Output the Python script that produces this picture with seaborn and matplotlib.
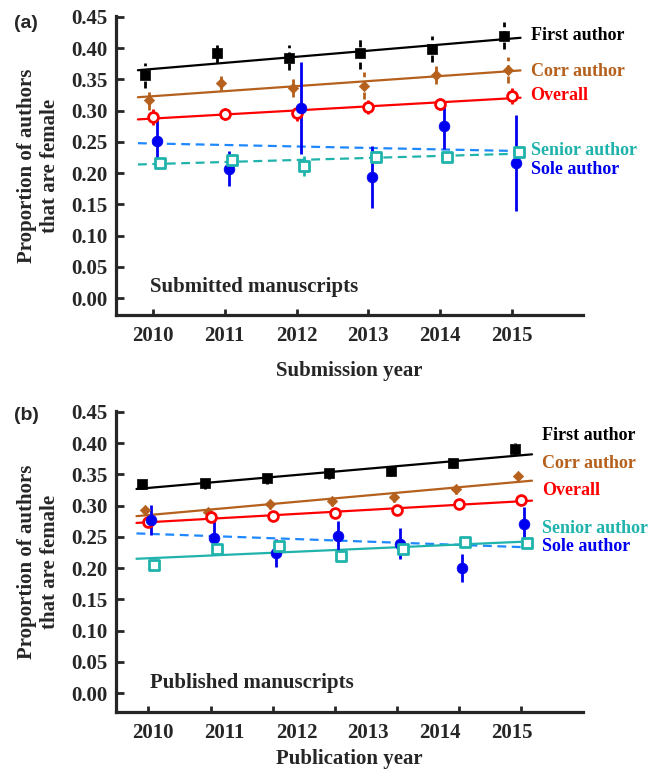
import numpy as np
import matplotlib
matplotlib.use("Agg")
import matplotlib.pyplot as plt
import seaborn as sns

# ---- data ----
years = [2010, 2011, 2012, 2013, 2014, 2015]
year_labels = ["2010", "2011", "2012", "2013", "2014", "2015"]
# published panel: 7 points, drawn at the (shifted) tick positions
pub_x = [2009.93, 2010.81, 2011.67, 2012.54, 2013.40, 2014.26, 2015.13]

series_names = ["First author", "Corr author", "Overall", "Sole author", "Senior author"]

# (a) submitted manuscripts
sub_first = [0.357, 0.393, 0.385, 0.393, 0.399, 0.420]
sub_first_err = [0.020, 0.016, 0.020, 0.026, 0.021, 0.022]
sub_corr = [0.317, 0.344, 0.337, 0.340, 0.357, 0.365]
sub_corr_err = [0.016, 0.012, 0.015, 0.022, 0.015, 0.021]
sub_overall = [0.290, 0.295, 0.296, 0.306, 0.311, 0.324]
sub_overall_err = [0.013, 0.010, 0.012, 0.011, 0.010, 0.013]
sub_sole = [0.252, 0.207, 0.304, 0.194, 0.276, 0.216]
sub_sole_err = [0.035, 0.028, 0.074, 0.050, 0.037, 0.077]
sub_senior = [0.217, 0.221, 0.212, 0.226, 0.226, 0.234]
sub_senior_err = [0.008, 0.010, 0.016, 0.010, 0.008, 0.010]

# (b) published manuscripts
pub_first = [0.335, 0.336, 0.344, 0.352, 0.356, 0.368, 0.391]
pub_first_err = [0.009, 0.009, 0.009, 0.009, 0.009, 0.008, 0.010]
pub_corr = [0.293, 0.290, 0.303, 0.307, 0.314, 0.327, 0.348]
pub_corr_err = [0.008, 0.008, 0.008, 0.008, 0.008, 0.008, 0.008]
pub_overall = [0.274, 0.282, 0.283, 0.288, 0.293, 0.303, 0.309]
pub_overall_err = [0.005, 0.005, 0.005, 0.005, 0.005, 0.005, 0.005]
pub_sole = [0.277, 0.248, 0.224, 0.251, 0.239, 0.200, 0.271]
pub_sole_err = [0.024, 0.027, 0.022, 0.024, 0.025, 0.022, 0.027]
pub_senior = [0.205, 0.231, 0.235, 0.219, 0.231, 0.242, 0.240]
pub_senior_err = [0.004, 0.004, 0.004, 0.004, 0.004, 0.004, 0.004]

# ---- styles ----
colors = {"First author": "#000000", "Corr author": "#B5601C", "Overall": "#FF0000",
          "Sole author": "#0000F0", "Senior author": "#1FB3AC"}
fit_colors = dict(colors, **{"Sole author": "#1E88FF"})
markers = {"First author": ("s", 55, True), "Corr author": ("D", 28, True),
           "Overall": ("o", 50, False), "Sole author": ("o", 60, True),
           "Senior author": ("s", 52, False)}
err_dashed = {"First author": True, "Corr author": True, "Overall": False,
              "Sole author": False, "Senior author": False}
dash_pat = (0, (4, 2.5))

sns.set_theme(style="ticks")
plt.rcParams["font.family"] = ["Liberation Serif", "DejaVu Serif"]
plt.rcParams["font.weight"] = "bold"
plt.rcParams["axes.labelweight"] = "bold"

fig = plt.figure(figsize=(6.61, 7.70), dpi=100)
ax_a = fig.add_axes([116 / 661, 1 - 315 / 770, 467 / 661, 299 / 770])
ax_b = fig.add_axes([116 / 661, 1 - 712 / 770, 467 / 661, 301 / 770])


def draw_panel(ax, x, vals, errs, dodge, fit_range, fit_dashed, label_x, label_y):
    x = np.asarray(x, dtype=float)
    for i, name in enumerate(series_names):
        y = np.asarray(vals[name])
        e = np.asarray(errs[name])
        xd = x + dodge[i]
        col = colors[name]
        # error bars
        _, _, bars = ax.errorbar(xd, y, yerr=e, fmt="none", ecolor=col,
                                 elinewidth=2.0, capsize=0, zorder=3)
        if err_dashed[name]:
            for b in bars:
                b.set_linestyle((0, (2.5, 1.5)))
        # fitted trend line
        k, c = np.polyfit(x, y, 1)
        xs = np.array(fit_range)
        sns.lineplot(x=xs, y=k * xs + c, ax=ax, color=fit_colors[name], lw=1.6,
                     linestyle=dash_pat if name in fit_dashed else "-", zorder=2)
        # markers
        m, s, filled = markers[name]
        if filled:
            sns.scatterplot(x=xd, y=y, ax=ax, marker=m, s=s, color=col,
                            edgecolor=col, linewidth=0.5, zorder=5)
        else:
            sns.scatterplot(x=xd, y=y, ax=ax, marker=m, s=s, color="white",
                            edgecolor=col, linewidth=2.0, zorder=5)
        ax.text(label_x, label_y[i], name, color=colors[name],
                fontsize=13, fontweight="bold", va="center", ha="left", clip_on=False)


vals_a = dict(zip(series_names, [sub_first, sub_corr, sub_overall, sub_sole, sub_senior]))
errs_a = dict(zip(series_names, [sub_first_err, sub_corr_err, sub_overall_err, sub_sole_err, sub_senior_err]))
vals_b = dict(zip(series_names, [pub_first, pub_corr, pub_overall, pub_sole, pub_senior]))
errs_b = dict(zip(series_names, [pub_first_err, pub_corr_err, pub_overall_err, pub_sole_err, pub_senior_err]))

draw_panel(ax_a, years, vals_a, errs_a, [-0.11, -0.055, 0, 0.055, 0.10],
           (2009.79, 2015.12), ["Sole author", "Senior author"],
           2015.26, [0.421, 0.363, 0.325, 0.205, 0.237])
draw_panel(ax_b, pub_x, vals_b, errs_b, [-0.084, -0.042, 0, 0.042, 0.084],
           (2009.77, 2015.28), ["Sole author"],
           2015.42, [0.413, 0.368, 0.324, 0.234, 0.263])

for ax, xlab, note, ylo in [(ax_a, "Submission year", "Submitted manuscripts", -0.0272),
                            (ax_b, "Publication year", "Published manuscripts", -0.0304)]:
    ax.set_xlim(2009.485, 2015.99)
    ax.set_ylim(ylo, 0.4516)
    ax.set_yticks(np.arange(0, 0.451, 0.05))
    ax.set_yticklabels([f"{v:.2f}" for v in np.arange(0, 0.451, 0.05)])
    ax.set_ylabel("Proportion of authors\nthat are female", fontsize=15, labelpad=8)
    ax.tick_params(axis="y", direction="in", length=6, width=2, labelsize=15, pad=6)
    ax.tick_params(axis="x", which="both", direction="in", length=4, width=2, labelsize=15, pad=8)
    for side in ["left", "bottom"]:
        ax.spines[side].set_linewidth(2.3)
    sns.despine(ax=ax)
    ax.text(0.073, 0.095, note, transform=ax.transAxes, fontsize=15,
            fontweight="bold", va="center", ha="left")

ax_a.set_xlabel("Submission year", fontsize=15, labelpad=11)
ax_a.set_xticks(years)
ax_a.set_xticklabels(year_labels)
# panel (b): ticks at the data positions, year labels where panel (a) has them
ax_b.set_xticks(pub_x)
ax_b.set_xticklabels([])
ax_b.set_xticks(years, minor=True)
ax_b.set_xticklabels(year_labels, minor=True)
ax_b.tick_params(axis="x", which="minor", length=0, pad=8)
ax_b.set_xlabel("Publication year", fontsize=15, labelpad=4)

fig.text(14 / 661, 1 - 23 / 770, "(a)", family=["Liberation Sans", "DejaVu Sans"],
         fontsize=14, fontweight="bold", va="center", ha="left")
fig.text(14 / 661, 1 - 415 / 770, "(b)", family=["Liberation Sans", "DejaVu Sans"],
         fontsize=14, fontweight="bold", va="center", ha="left")

fig.savefig("out.png", dpi=100)
